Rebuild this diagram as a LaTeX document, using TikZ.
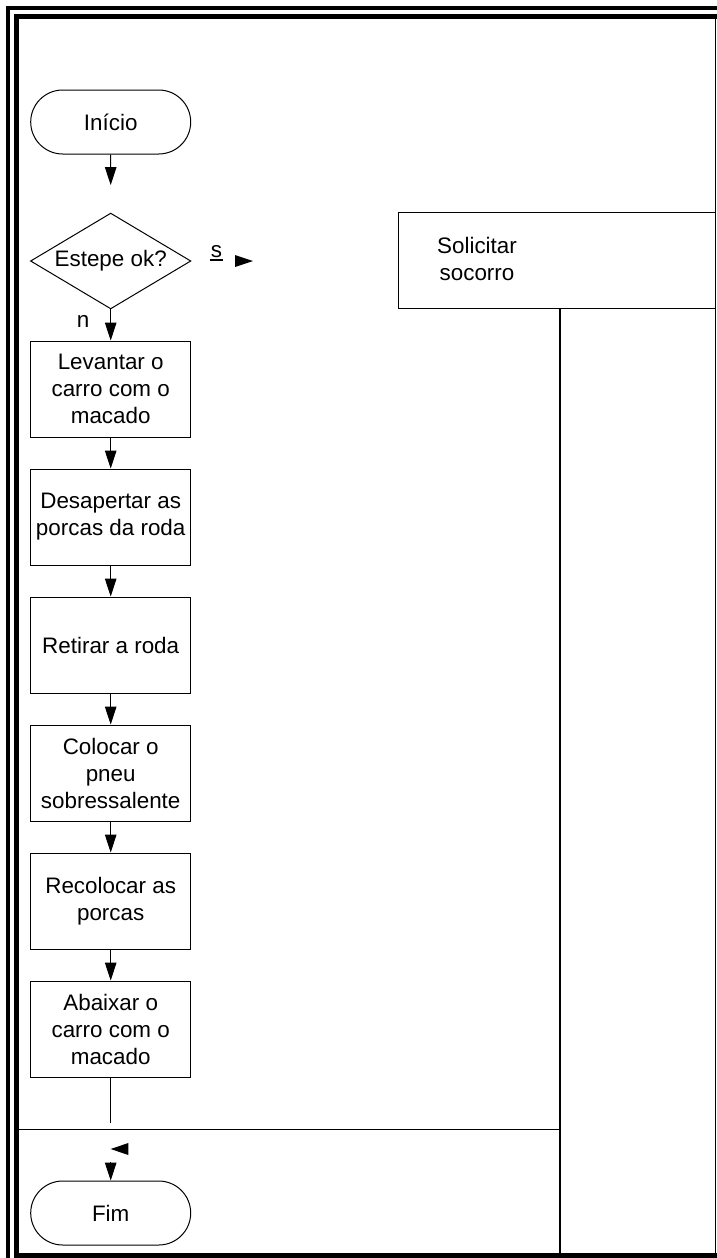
\documentclass[tikz,border=0pt]{standalone}
\usepackage{fontspec}
\setmainfont{Liberation Sans}
\usetikzlibrary{arrows.meta,shapes.geometric,shapes.misc}
\begin{document}
\begin{tikzpicture}[x=0.5pt,y=-0.5pt,
  txt/.style={font=\fontsize{11.2pt}{13.5pt}\selectfont, align=center, inner sep=0pt},
  proc/.style={txt, draw, line width=0.5pt, minimum width=80pt, minimum height=48pt},
  term/.style={txt, draw, line width=0.5pt, rounded rectangle, minimum width=80pt, minimum height=32pt},
  flow/.style={line width=0.5pt, -{Triangle[length=9pt,width=5.8pt]}},
  plain/.style={line width=0.5pt},
  lane/.style={line width=0.7pt},
  frameout/.style={line width=2pt},
  framein/.style={line width=2.5pt},
]
\useasboundingbox (0,0) rectangle (717,1258);
\clip (0,0) rectangle (717,1258);
\fill[white] (0,0) rectangle (717,1258);

% frame
\draw[frameout] (8,1300) -- (8,8) -- (760,8);
\draw[framein] (760,1255) -- (16.5,1255) -- (16.5,16.5) -- (760,16.5);

% lanes
\coordinate (rtop) at (715.5,18);
\coordinate (rbot) at (715.5,1255);
\draw[lane] (rtop) -- (rbot);
\coordinate (mtop) at (560,308.3);
\coordinate (mbot) at (560,1255);
\draw[lane] (mtop) -- (mbot);
\coordinate (hl) at (18,1129.3);
\coordinate (hr) at (560,1129.3);
\draw[lane] (hl) -- (hr);

% Solicitar socorro
\node[draw, line width=0.7pt, minimum width=158.6pt, minimum height=47.8pt, inner sep=0pt] (sol) at (556.9,260.5) {};
\node[txt] (soltxt) at (477,259) {Solicitar\\socorro};

% main flow
\node[term] (start) at (110.7,122) {Início};
\coordinate (dtop) at (110.7,185);
\draw[flow] (start) -- (dtop);

% decision
\coordinate (decN) at (110.7,213.3);
\coordinate (decE) at (190.7,261);
\coordinate (decS) at (110.7,308.7);
\coordinate (decW) at (30.7,261);
\draw[plain, line join=miter] (decN) -- (decE) -- (decS) -- (decW) -- cycle;
\node[txt] (dec) at (110.7,261) {Estepe ok?};
\node[txt] (slab) at (216.5,252) {s};
\coordinate (sul) at (210,259.5);
\coordinate (sur) at (223,259.5);
\draw[line width=1pt] (sul) -- (sur);
\coordinate (sarr) at (235,255);
\fill (sarr) -- ++(18,6) -- ++(-18,6) -- cycle;
\node[txt] (nlab) at (83,321) {n};

\node[proc] (b1) at (110.7,389) {Levantar o\\carro com o\\macado};
\node[proc] (b2) at (110.7,517) {Desapertar as\\porcas da roda};
\node[proc] (b3) at (110.7,645) {Retirar a roda};
\node[proc] (b4) at (110.7,773) {Colocar o\\pneu\\sobressalente};
\node[proc] (b5) at (110.7,901) {Recolocar as\\porcas};
\node[proc] (b6) at (110.7,1029) {Abaixar o\\carro com o\\macado};

\draw[flow] (decS) -- (b1.north);
\draw[flow] (b1) -- (b2);
\draw[flow] (b2) -- (b3);
\draw[flow] (b3) -- (b4);
\draw[flow] (b4) -- (b5);
\draw[flow] (b5) -- (b6);
\coordinate (b6end) at (110.7,1123);
\draw[plain] (b6.south) -- (b6end);

\coordinate (offl) at (110.7,1149);
\fill (offl) -- ++(17.6,-6) -- ++(0,12) -- cycle;

\node[term] (fim) at (110.7,1213) {Fim};
\coordinate (offd) at (110.7,1162);
\draw[flow] (offd) -- (fim.north);
\end{tikzpicture}
\end{document}
